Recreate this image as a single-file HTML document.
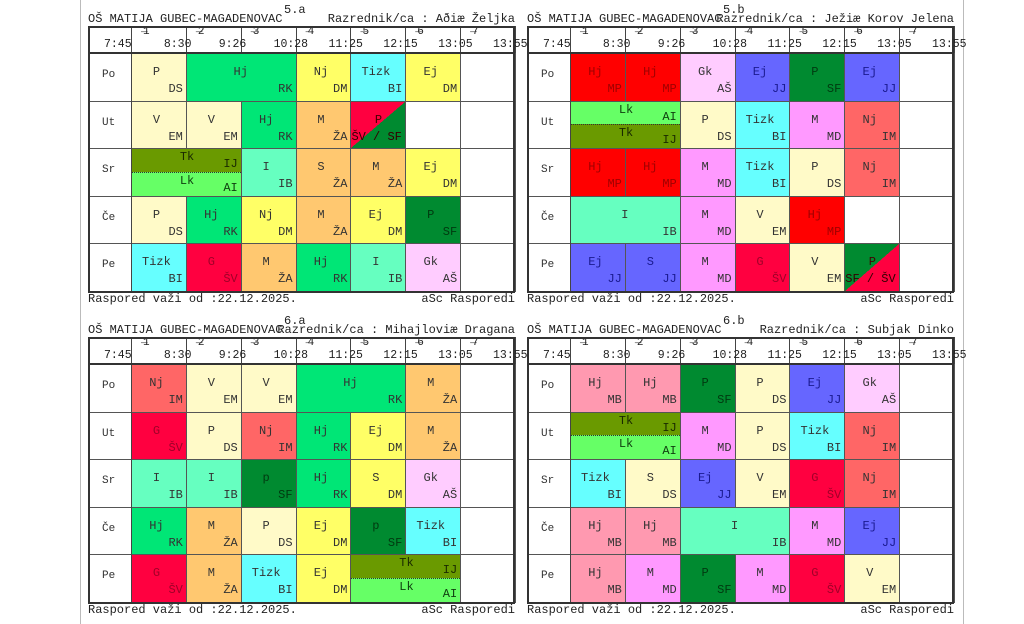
<!DOCTYPE html>
<html><head><meta charset="utf-8">
<style>
body{margin:0;background:#fff;width:1024px;height:624px;overflow:hidden;position:relative;font-family:"Liberation Mono",monospace;font-size:12px;color:#222}
.a{position:absolute;white-space:nowrap}
.c{position:absolute;box-sizing:border-box;overflow:hidden}
.box{position:absolute;border:2px solid #333;box-sizing:border-box}
.vl{position:absolute;background:#777}
</style></head><body>
<div class="vl" style="left:80px;top:0;width:1px;height:624px;background:#bbb"></div>
<div class="vl" style="left:963px;top:0;width:1px;height:624px;background:#bbb"></div>
<div id="r"></div>
<script>
var C={ly:'#fffac8',hj:'#00e676',y:'#ffff66',cy:'#66ffff',or:'#ffc870',cr:'#ff0040',rd:'#ff0000',dg:'#008a30',aq:'#66ffc0',pk:'#ffccff',bl:'#6666ff',vi:'#ff99ff',sa:'#ff6666',tk:'#6a9a00',lk:'#66ff66',mb:'#ff99b0',w:'#ffffff'};
var TC={cr:'#a00028',rd:'#a00000',dg:'#003a10',bl:'#1a1a90',tk:'#1a2a00',lk:'#104010'};
var P=[
{x:88,y:26,cls:'5.a',raz:'Razrednik/ca : Aðiæ Željka',rows:[
[[0,1,'P','DS','ly'],[1,2,'Hj','RK','hj'],[3,1,'Nj','DM','y'],[4,1,'Tizk','BI','cy'],[5,1,'Ej','DM','y']],
[[0,1,'V','EM','ly'],[1,1,'V','EM','ly'],[2,1,'Hj','RK','hj'],[3,1,'M','ŽA','or'],[4,1,'D','ŠV / SF',['cr','dg']]],
[[0,2,'#SPLIT',['Tk','IJ','tk'],['Lk','AI','lk']],[2,1,'I','IB','aq'],[3,1,'S','ŽA','or'],[4,1,'M','ŽA','or'],[5,1,'Ej','DM','y']],
[[0,1,'P','DS','ly'],[1,1,'Hj','RK','hj'],[2,1,'Nj','DM','y'],[3,1,'M','ŽA','or'],[4,1,'Ej','DM','y'],[5,1,'P','SF','dg']],
[[0,1,'Tizk','BI','cy'],[1,1,'G','ŠV','cr'],[2,1,'M','ŽA','or'],[3,1,'Hj','RK','hj'],[4,1,'I','IB','aq'],[5,1,'Gk','AŠ','pk']]]},
{x:527,y:26,cls:'5.b',raz:'Razrednik/ca : Ježiæ Korov Jelena',rows:[
[[0,1,'Hj','MP','rd'],[1,1,'Hj','MP','rd'],[2,1,'Gk','AŠ','pk'],[3,1,'Ej','JJ','bl'],[4,1,'P','SF','dg'],[5,1,'Ej','JJ','bl']],
[[0,2,'#SPLIT',['Lk','AI','lk'],['Tk','IJ','tk']],[2,1,'P','DS','ly'],[3,1,'Tizk','BI','cy'],[4,1,'M','MD','vi'],[5,1,'Nj','IM','sa']],
[[0,1,'Hj','MP','rd'],[1,1,'Hj','MP','rd'],[2,1,'M','MD','vi'],[3,1,'Tizk','BI','cy'],[4,1,'P','DS','ly'],[5,1,'Nj','IM','sa']],
[[0,2,'I','IB','aq'],[2,1,'M','MD','vi'],[3,1,'V','EM','ly'],[4,1,'Hj','MP','rd']],
[[0,1,'Ej','JJ','bl'],[1,1,'S','JJ','bl'],[2,1,'M','MD','vi'],[3,1,'G','ŠV','cr'],[4,1,'V','EM','ly'],[5,1,'D','SF / ŠV',['dg','cr']]]]},
{x:88,y:337,cls:'6.a',raz:'Razrednik/ca : Mihajloviæ Dragana',rows:[
[[0,1,'Nj','IM','sa'],[1,1,'V','EM','ly'],[2,1,'V','EM','ly'],[3,2,'Hj','RK','hj'],[5,1,'M','ŽA','or']],
[[0,1,'G','ŠV','cr'],[1,1,'P','DS','ly'],[2,1,'Nj','IM','sa'],[3,1,'Hj','RK','hj'],[4,1,'Ej','DM','y'],[5,1,'M','ŽA','or']],
[[0,1,'I','IB','aq'],[1,1,'I','IB','aq'],[2,1,'p','SF','dg'],[3,1,'Hj','RK','hj'],[4,1,'S','DM','y'],[5,1,'Gk','AŠ','pk']],
[[0,1,'Hj','RK','hj'],[1,1,'M','ŽA','or'],[2,1,'P','DS','ly'],[3,1,'Ej','DM','y'],[4,1,'p','SF','dg'],[5,1,'Tizk','BI','cy']],
[[0,1,'G','ŠV','cr'],[1,1,'M','ŽA','or'],[2,1,'Tizk','BI','cy'],[3,1,'Ej','DM','y'],[4,2,'#SPLIT',['Tk','IJ','tk'],['Lk','AI','lk']]]]},
{x:527,y:337,cls:'6.b',raz:'Razrednik/ca : Subjak Dinko',rows:[
[[0,1,'Hj','MB','mb'],[1,1,'Hj','MB','mb'],[2,1,'P','SF','dg'],[3,1,'P','DS','ly'],[4,1,'Ej','JJ','bl'],[5,1,'Gk','AŠ','pk']],
[[0,2,'#SPLIT',['Tk','IJ','tk'],['Lk','AI','lk']],[2,1,'M','MD','vi'],[3,1,'P','DS','ly'],[4,1,'Tizk','BI','cy'],[5,1,'Nj','IM','sa']],
[[0,1,'Tizk','BI','cy'],[1,1,'S','DS','ly'],[2,1,'Ej','JJ','bl'],[3,1,'V','EM','ly'],[4,1,'G','ŠV','cr'],[5,1,'Nj','IM','sa']],
[[0,1,'Hj','MB','mb'],[1,1,'Hj','MB','mb'],[2,2,'I','IB','aq'],[4,1,'M','MD','vi'],[5,1,'Ej','JJ','bl']],
[[0,1,'Hj','MB','mb'],[1,1,'M','MD','vi'],[2,1,'P','SF','dg'],[3,1,'M','MD','vi'],[4,1,'G','ŠV','cr'],[5,1,'V','EM','ly']]]}
];
var days=['Po','Ut','Sr','Če','Pe'];
var times=['7:45','8:30','9:26','10:28','11:25','12:15','13:05','13:55'];
var h='';
var W=427,HH=27,RH=47.6,DW=43,CW=54.86;
function t(x,y,s,st){h+='<div class="a" style="left:'+x+'px;top:'+y+'px;'+(st||'')+'">'+s+'</div>';}
P.forEach(function(p){
 var x0=p.x,y0=p.y;
 t(x0,y0-14,'OŠ MATIJA GUBEC-MAGADENOVAC');
 t(x0+196,y0-23,p.cls);
 h+='<div class="a" style="left:'+(x0)+'px;width:'+W+'px;text-align:right;top:'+(y0-14)+'px">'+p.raz+'</div>';
 t(x0,y0+266,'Raspored važi od :22.12.2025.');
 h+='<div class="a" style="left:'+x0+'px;width:'+W+'px;text-align:right;top:'+(y0+266)+'px">aSc Rasporedi</div>';
 var gx=x0+DW,gy=y0+HH;
 p.rows.forEach(function(r,ri){
  var ry=gy+ri*RH;
  var occ=[0,0,0,0,0,0,0];
  r.forEach(function(c){for(var k=0;k<c[1];k++)occ[c[0]+k]=1;});
  var cells=r.slice();
  for(var k=0;k<7;k++)if(!occ[k])cells.push([k,1,'','','w']);
  cells.forEach(function(c){
   var cx=gx+c[0]*CW,w=c[1]*CW;
   var st='left:'+cx+'px;top:'+ry+'px;width:'+(w+1)+'px;height:'+(RH+1)+'px;border:1px solid #555;';
   if(c[2]=='#SPLIT'){
    h+='<div class="c" style="'+st+'background:'+C[c[4][2]]+'"></div>';
    [c[3],c[4]].forEach(function(s,i){
     var yy=ry+i*RH/2;
     var col=TC[s[2]]||'#222';
     h+='<div class="c" style="left:'+(cx+1)+'px;top:'+(yy+(i?0:1))+'px;width:'+(w-1)+'px;height:'+(RH/2+(i?0:-1))+'px;background:'+C[s[2]]+(i==1?';border-top:1px dotted #333':'')+'"></div>';
     t(cx+w/2-6,yy+2,s[0],'color:'+col);
     h+='<div class="a" style="left:'+cx+'px;width:'+(w-3)+'px;text-align:right;top:'+(yy+9)+'px;color:'+col+'">'+s[1]+'</div>';
    });
   } else if(Array.isArray(c[4])){
    h+='<div class="c" style="'+st+'background:linear-gradient(to bottom right,'+C[c[4][0]]+' 50%,'+C[c[4][1]]+' 50%)"></div>';
    t(cx+w/2-3,ry+12,'P','color:#400');
    t(cx+1,ry+29,c[3],'color:#300');
   } else {
    var col=TC[c[4]]||'#333';
    h+='<div class="c" style="'+st+'background:'+C[c[4]]+'"></div>';
    if(c[2]){
     var sw=c[2].length*7.2;
     t(cx+w/2-sw/2-(c[1]>1?0:2),ry+12,c[2],'color:'+col);
     h+='<div class="a" style="left:'+cx+'px;width:'+(w-3)+'px;text-align:right;top:'+(ry+29)+'px;color:'+col+'">'+c[3]+'</div>';
    }
   }
  });
  t(x0+14,ry+16,days[ri],'color:#333;font-size:11px');
  h+='<div class="c" style="left:'+x0+'px;top:'+ry+'px;width:'+DW+'px;height:1px;background:#555"></div>';
 });
 for(var i=0;i<=7;i++){
  var lx=gx+i*CW;
  h+='<div class="c" style="left:'+lx+'px;top:'+y0+'px;width:1px;height:'+(i==0?HH+5*RH:HH)+'px;background:#444"></div>';
  t(lx-22+(i==0?-5:0),y0+12,times[i],'font-size:11.5px');
  if(i<7){t(lx+10,y0+6,'&#8254;','font-size:11px');t(lx+12,y0+0,String(i+1),'font-size:11px');}
 }
 h+='<div class="c" style="left:'+x0+'px;top:'+(gy-1)+'px;width:'+W+'px;height:2px;background:#333"></div>';
 h+='<div class="box" style="left:'+x0+'px;top:'+y0+'px;width:'+W+'px;height:'+(HH+5*RH+2)+'px"></div>';
});
document.getElementById('r').innerHTML=h;
</script>
</body></html>
